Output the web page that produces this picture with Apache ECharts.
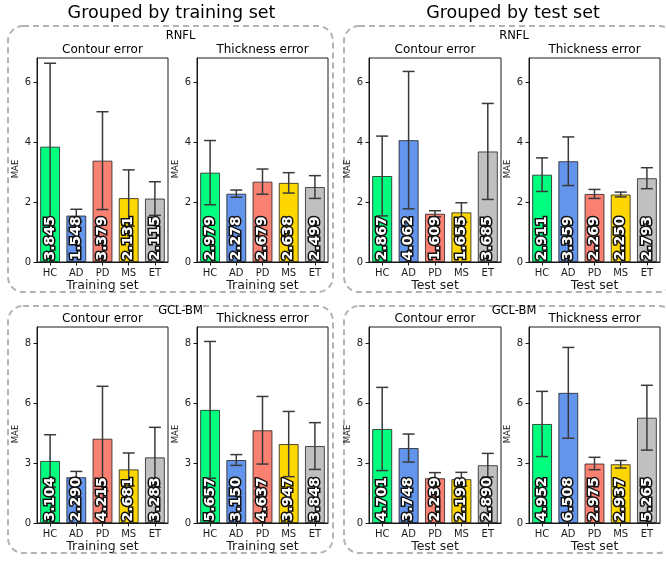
<!DOCTYPE html>
<html>
<head>
<meta charset="utf-8">
<script src="https://cdn.jsdelivr.net/npm/echarts@6/dist/echarts.min.js"></script>
<style>
html,body{margin:0;padding:0;background:#fff;}
#chart{width:666px;height:563px;}
</style>
</head>
<body>
<div id="chart"></div>
<script>
// ---- data ----
const categories = ['HC', 'AD', 'PD', 'MS', 'ET'];
const barColors = ['#00FF7F', '#6495ED', '#FA8072', '#FFD700', '#C0C0C0'];

const rnflTrainContour = [3.845, 1.548, 3.379, 2.131, 2.115];
const rnflTrainContourErr = [2.78, 0.21, 1.63, 0.94, 0.56];
const rnflTrainThickness = [2.979, 2.278, 2.679, 2.638, 2.499];
const rnflTrainThicknessErr = [1.07, 0.12, 0.42, 0.34, 0.38];

const rnflTestContour = [2.867, 4.062, 1.609, 1.655, 3.685];
const rnflTestContourErr = [1.33, 2.29, 0.10, 0.32, 1.60];
const rnflTestThickness = [2.911, 3.359, 2.269, 2.250, 2.793];
const rnflTestThicknessErr = [0.56, 0.81, 0.15, 0.08, 0.35];

const gclTrainContour = [3.104, 2.290, 4.215, 2.681, 3.283];
const gclTrainContourErr = [1.31, 0.29, 2.62, 0.82, 1.50];
const gclTrainThickness = [5.657, 3.150, 4.637, 3.947, 3.848];
const gclTrainThicknessErr = [3.42, 0.27, 1.69, 1.63, 1.17];

const gclTestContour = [4.701, 3.748, 2.239, 2.193, 2.890];
const gclTestContourErr = [2.08, 0.70, 0.28, 0.34, 0.59];
const gclTestThickness = [4.952, 6.508, 2.975, 2.937, 5.265];
const gclTestThicknessErr = [1.63, 2.27, 0.31, 0.19, 1.62];

const rnflTicks = [0, 2, 4, 6];
const rnflTickLabels = ['0', '2', '4', '6'];
const gclTicks = [0, 3, 6, 9];
const gclTickLabels = ['0', '3', '6', '8'];

// ---- layout ----
const FONT = 'DejaVu Sans';
const chart = echarts.init(document.getElementById('chart'), null, {renderer: 'canvas'});

const grids = [], xAxes = [], yAxes = [], series = [], graphics = [];

function addPlot(rect, values, errors, xName, ticks, tickLabels, yMax) {
  const idx = grids.length;
  grids.push({left: rect[0], top: rect[1], width: rect[2], height: rect[3],
    show: true, borderColor: '#1a1a1a', borderWidth: 1, backgroundColor: 'transparent'});
  xAxes.push({
    type: 'category', gridIndex: idx, data: categories,
    axisLine: {show: true, lineStyle: {color: '#1a1a1a', width: 1}},
    axisTick: {show: true, alignWithLabel: true, length: 3.5, lineStyle: {color: '#1a1a1a'}},
    axisLabel: {fontFamily: FONT, fontSize: 10, color: '#1a1a1a', margin: 6},
    name: xName, nameLocation: 'middle', nameGap: 14,
    nameTextStyle: {fontFamily: FONT, fontSize: 12.5, color: '#1a1a1a', verticalAlign: 'top'}
  });
  yAxes.push({
    type: 'value', gridIndex: idx, min: 0, max: yMax,
    splitLine: {show: false},
    axisLine: {show: true, lineStyle: {color: '#1a1a1a', width: 1}},
    axisTick: {show: true, length: 3.5, customValues: ticks, lineStyle: {color: '#1a1a1a'}},
    axisLabel: {fontFamily: FONT, fontSize: 10, color: '#1a1a1a', margin: 6,
      customValues: ticks,
      formatter: function (v) { const k = ticks.indexOf(v); return k >= 0 ? tickLabels[k] : ''; }}
  });
  series.push({
    type: 'bar', xAxisIndex: idx, yAxisIndex: idx, data: values,
    barWidth: '76%', barGap: '-100%', z: 2, silent: true,
    itemStyle: {color: function (p) { return barColors[p.dataIndex]; },
      borderColor: 'rgba(20,20,20,0.75)', borderWidth: 1}
  });
  series.push({
    type: 'custom', xAxisIndex: idx, yAxisIndex: idx, z: 3, silent: true,
    data: values.map(function (v, i) { return [i, v, errors[i]]; }),
    encode: {x: 0, y: 1},
    renderItem: function (params, api) {
      const x = api.value(0), v = api.value(1), e = api.value(2);
      const top = api.coord([x, v + e]);
      const bot = api.coord([x, v - e]);
      const hw = 6;
      const st = {stroke: '#3a3a3a', lineWidth: 1.5};
      return {type: 'group', children: [
        {type: 'line', shape: {x1: top[0], y1: top[1], x2: bot[0], y2: bot[1]}, style: st},
        {type: 'line', shape: {x1: top[0] - hw, y1: top[1], x2: top[0] + hw, y2: top[1]}, style: st},
        {type: 'line', shape: {x1: bot[0] - hw, y1: bot[1], x2: bot[0] + hw, y2: bot[1]}, style: st}
      ]};
    }
  });
  series.push({
    type: 'bar', xAxisIndex: idx, yAxisIndex: idx, data: values,
    barWidth: '76%', barGap: '-100%', z: 5, silent: true,
    itemStyle: {color: 'rgba(0,0,0,0)', borderWidth: 0},
    label: {show: true, position: 'insideBottom', rotate: 90, align: 'left', verticalAlign: 'middle',
      distance: 1.5, fontFamily: FONT, fontSize: 14, fontWeight: 'bold', color: '#ffffff',
      textBorderColor: '#111', textBorderWidth: 3,
      formatter: function (p) { return p.value.toFixed(3); }}
  });
  // MAE label
  graphics.push({type: 'text', x: rect[0] - 21, y: rect[1] + rect[3] / 2 + 9, rotation: Math.PI / 2,
    style: {text: 'MAE', fontFamily: FONT, fontSize: 8.5, fill: '#1a1a1a', align: 'center', verticalAlign: 'middle'}});
}

// top row (RNFL)
addPlot([37, 58, 131, 204], rnflTrainContour, rnflTrainContourErr, 'Training set', rnflTicks, rnflTickLabels, 6.8);
addPlot([197, 58, 131, 204], rnflTrainThickness, rnflTrainThicknessErr, 'Training set', rnflTicks, rnflTickLabels, 6.8);
addPlot([369, 58, 132, 204], rnflTestContour, rnflTestContourErr, 'Test set', rnflTicks, rnflTickLabels, 6.8);
addPlot([529, 58, 131, 204], rnflTestThickness, rnflTestThicknessErr, 'Test set', rnflTicks, rnflTickLabels, 6.8);
// bottom row (GCL-BM)
addPlot([37, 327, 131, 196], gclTrainContour, gclTrainContourErr, 'Training set', gclTicks, gclTickLabels, 9.8);
addPlot([197, 327, 131, 196], gclTrainThickness, gclTrainThicknessErr, 'Training set', gclTicks, gclTickLabels, 9.8);
addPlot([369, 327, 132, 196], gclTestContour, gclTestContourErr, 'Test set', gclTicks, gclTickLabels, 9.8);
addPlot([529, 327, 131, 196], gclTestThickness, gclTestThicknessErr, 'Test set', gclTicks, gclTickLabels, 9.8);

function txt(x, y, s, size) {
  graphics.push({type: 'text', x: x, y: y,
    style: {text: s, fontFamily: FONT, fontSize: size, fill: '#000', align: 'center', verticalAlign: 'middle'}});
}
function box(x, y, w, h) {
  graphics.push({type: 'rect', shape: {x: x, y: y, width: w, height: h, r: 15}, z: -1,
    style: {fill: 'none', stroke: '#b3b3b3', lineWidth: 2, lineDash: [6, 4]}});
}
box(8, 26, 325, 266);
box(344, 26, 330, 266);
box(8, 306, 325, 247);
box(344, 306, 330, 247);

txt(171.5, 13, 'Grouped by training set', 17.5);
txt(513, 13, 'Grouped by test set', 17.5);
txt(180.5, 36, 'RNFL', 11.5);
txt(514, 36, 'RNFL', 11.5);
txt(180.5, 311, 'GCL-BM', 11.5);
txt(514, 311, 'GCL-BM', 11.5);
[[102.5, 49.5, 'Contour error'], [262.5, 49.5, 'Thickness error'], [435, 49.5, 'Contour error'], [594.5, 49.5, 'Thickness error'],
 [102.5, 318.5, 'Contour error'], [262.5, 318.5, 'Thickness error'], [435, 318.5, 'Contour error'], [594.5, 318.5, 'Thickness error']]
  .forEach(function (t) { txt(t[0], t[1], t[2], 12); });

chart.setOption({
  animation: false,
  backgroundColor: '#ffffff',
  grid: grids, xAxis: xAxes, yAxis: yAxes, series: series,
  graphic: graphics
});
</script>
</body>
</html>
